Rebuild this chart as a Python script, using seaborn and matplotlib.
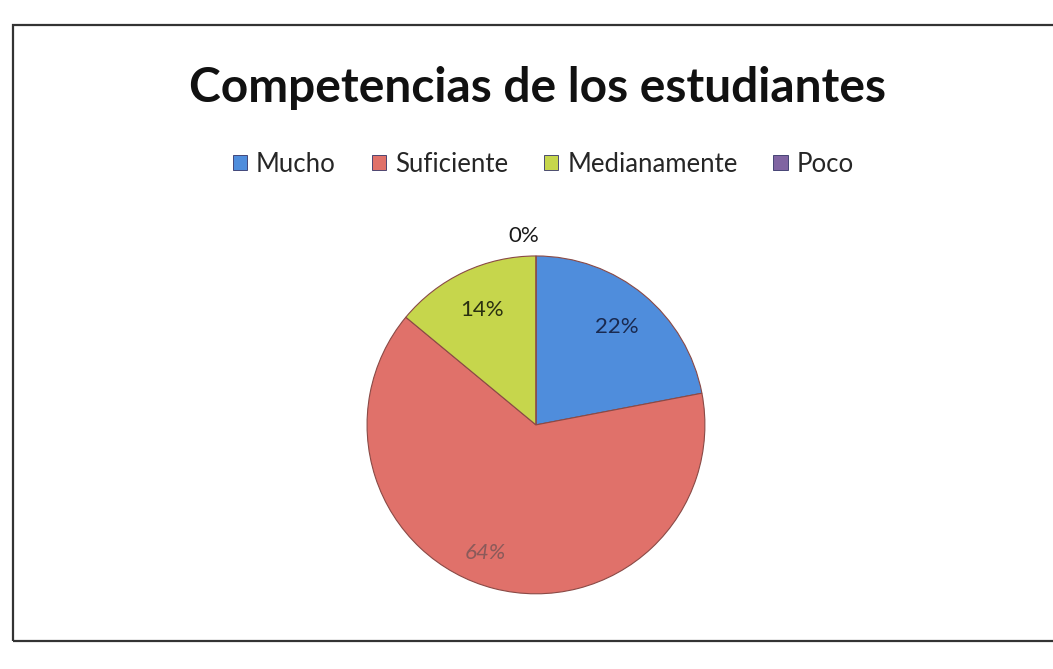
import matplotlib
matplotlib.use("Agg")
import matplotlib.pyplot as plt
import seaborn as sns
import numpy as np
from matplotlib.patches import Rectangle, Patch

categories = ["Mucho", "Suficiente", "Medianamente", "Poco"]
values = [22, 64, 14, 0]
colors = ["#4f8ddc", "#e0716a", "#c6d64c", "#8064a2"]
title = "Competencias de los estudiantes"

sns.set_theme(style="white")
plt.rcParams['font.family'] = ['Lato', 'DejaVu Sans']

fig = plt.figure(figsize=(10.53, 6.69), dpi=100)
fig.patch.set_facecolor("white")

# frame
fig.add_artist(Rectangle((13 / 1053, 1 - 641 / 669), 1.2, (641 - 25) / 669,
                         transform=fig.transFigure, fill=False,
                         edgecolor="#333333", linewidth=1.6))

ax = fig.add_axes([0.3485, 0.1124, 0.321, 0.505])
wedges, texts, autotexts = ax.pie(
    values, colors=colors, startangle=90, counterclock=False,
    autopct=lambda p: f"{p:.0f}%", pctdistance=0.75,
    wedgeprops=dict(edgecolor="#8a4a46", linewidth=0.8),
    textprops=dict(fontsize=16, color="#1a1a1a"))
ax.set_aspect("equal")
ax.set_xlim(-1.0, 1.0)
ax.set_ylim(-1.0, 1.0)
ax.set_axis_off()

# Suficiente label faint, Poco label outside
autotexts[1].set_color("#8a5a5a")
autotexts[1].set_fontstyle("italic")
autotexts[1].set_position((-0.30, -0.76))
autotexts[0].set_color("#1a2a50")
autotexts[2].set_color("#2a3010")
w = wedges[3]
ang = np.deg2rad((w.theta1 + w.theta2) / 2)
autotexts[3].set_position((1.12 * np.cos(ang) - 0.07, 1.12 * np.sin(ang)))
autotexts[3].set_clip_on(False)

fig.text(0.51, 1 - 88 / 669, title, ha="center", va="center",
         fontsize=34.5, fontweight="bold", color="#111111")

handles = [Patch(facecolor=c, edgecolor="#333366", linewidth=0.6) for c in colors]
fig.legend(handles, categories, loc="center", bbox_to_anchor=(0.516, 1 - 164 / 669),
           ncol=4, frameon=False, fontsize=18.5, handlelength=0.55, handleheight=0.55,
           handletextpad=0.35, columnspacing=1.4)

fig.savefig("out.png", dpi=100, facecolor="white")
